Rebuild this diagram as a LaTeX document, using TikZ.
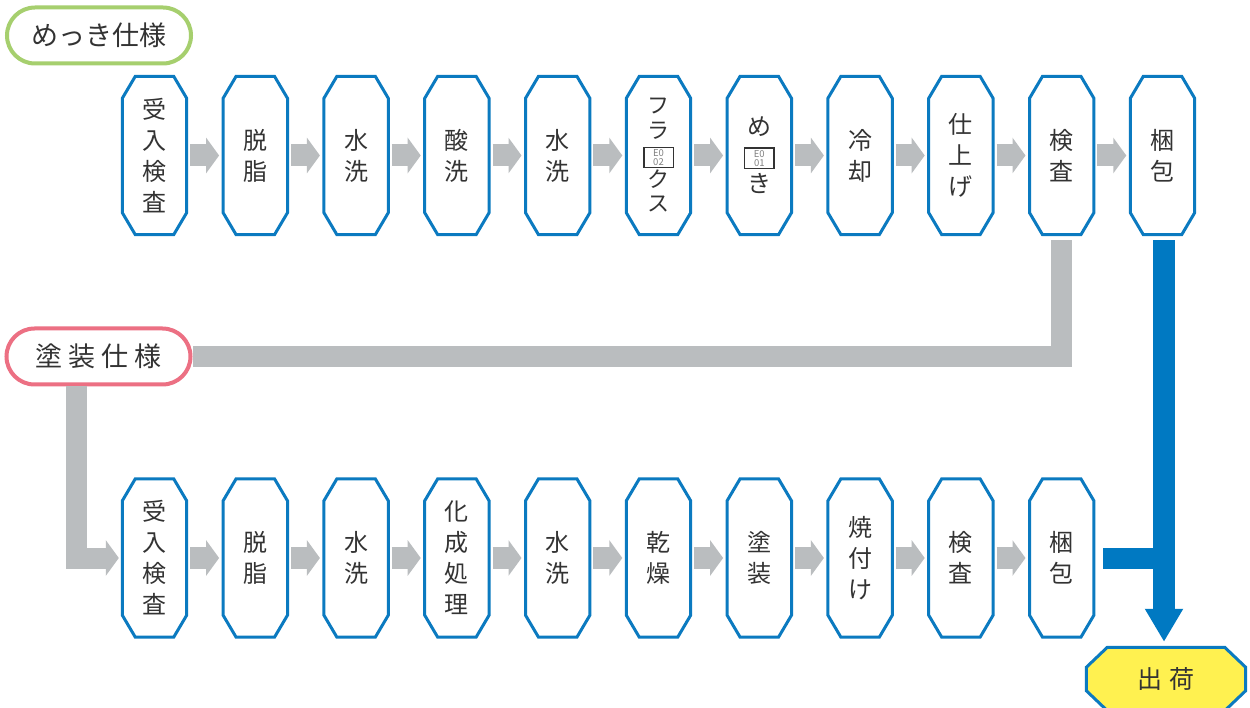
\documentclass[tikz,border=0pt]{standalone}
\usepackage{fontspec}
\setmainfont{Noto Sans CJK JP}
\usetikzlibrary{arrows.meta,calc,backgrounds}
\definecolor{nodeblue}{HTML}{0B7AC0}
\definecolor{barblue}{HTML}{0079C2}
\definecolor{bargray}{HTML}{BABDBF}
\definecolor{pillgreen}{HTML}{A6CF6E}
\definecolor{pillpink}{HTML}{EC7083}
\definecolor{txt}{HTML}{333333}
\definecolor{shukkay}{HTML}{FFF150}
\tikzset{
  stepnode/.style={minimum width=64pt, minimum height=158pt, inner sep=0pt, align=center, text=txt, font=\fontsize{24}{31}\selectfont},
  octline/.style={draw=nodeblue, line width=3pt, line join=miter},
  grayarrow/.style={draw=bargray, line width=22pt, -{Triangle[length=13pt,width=35pt]}, shorten <=3.5pt, shorten >=4pt},
  graybar/.style={draw=bargray, line width=21pt, line join=miter},
  bluebar/.style={draw=barblue, line width=22pt, line join=miter},
  pill/.style={line width=4pt, rounded corners=28pt, minimum width=184pt, minimum height=56pt, inner sep=0pt, text=txt, font=\fontsize{27}{30}\selectfont, fill=white},
  shukkanode/.style={minimum width=159pt, minimum height=63pt, inner sep=0pt, text=txt, font=\fontsize{25}{28}\selectfont},
}
\newcommand\octagon[4][white]{%
  \begin{pgfonlayer}{background}
  \path[octline, fill=#1] ($(#2.north west)+(#3,0)$) -- ($(#2.north east)+(-#3,0)$)
    -- ($(#2.north east)+(0,#4)$) -- ($(#2.south east)+(0,-#4)$)
    -- ($(#2.south east)+(-#3,0)$) -- ($(#2.south west)+(#3,0)$)
    -- ($(#2.south west)+(0,-#4)$) -- ($(#2.north west)+(0,#4)$) -- cycle;
  \end{pgfonlayer}}
\newcommand\gaiji[2]{{\setlength\fboxsep{0pt}\setlength\fboxrule{1.2pt}\fbox{\parbox[c][19pt][c]{28pt}{\centering\fontsize{9.5}{9}\selectfont\color{gray}#1\\#2}}}}
\begin{document}
\begin{tikzpicture}[x=1pt,y=-1pt]
\begin{pgfonlayer}{background}
\fill[white] (0,0) rectangle (1250,708);
\end{pgfonlayer}
\useasboundingbox (0,0) rectangle (1250,708);
% top row
\foreach \i/\xx/\t in {1/154.5/{受\\入\\検\\査},2/255.3/{脱\\脂},3/356.1/{水\\洗},4/456.9/{酸\\洗},5/557.7/{水\\洗},8/860.1/{冷\\却},9/960.9/{仕\\上\\げ},10/1061.7/{検\\査},11/1162.5/{梱\\包}}{
  \node[stepnode] (t\i) at (\xx,155.5) {\t};
  \octagon{t\i}{13}{22}
}
\node[stepnode, font=\fontsize{22}{24.5}\selectfont] (t6) at (658.5,155.5) {フ\\ラ\\\gaiji{E0}{02}\\ク\\ス};
\octagon{t6}{13}{22}
\node[stepnode, font=\fontsize{24}{28.5}\selectfont] (t7) at (759.3,155.5) {め\\\gaiji{E0}{01}\\き};
\octagon{t7}{13}{22}
% bottom row
\foreach \i/\xx/\t in {1/154.5/{受\\入\\検\\査},2/255.3/{脱\\脂},3/356.1/{水\\洗},4/456.9/{化\\成\\処\\理},5/557.7/{水\\洗},6/658.5/{乾\\燥},7/759.3/{塗\\装},8/860.1/{焼\\付\\け},9/960.9/{検\\査},10/1061.7/{梱\\包}}{
  \node[stepnode] (b\i) at (\xx,558) {\t};
  \octagon{b\i}{13}{22}
}
% labels
\node[pill, draw=pillgreen] (mekki) at (99,35.5) {めっき仕様};
\node[pill, draw=pillpink] (tosou) at (98.5,356.5) {塗\hspace{6pt}装\hspace{6pt}仕\hspace{6pt}様};
\node[shukkanode] (shukka) at (1166,679) {出\hspace{7pt}荷};
\octagon[shukkay]{shukka}{21}{20}
% gray arrows
\foreach \i in {1,...,10}{
  \pgfmathtruncatemacro\j{\i+1}
  \draw[grayarrow] (t\i.east) -- (t\j.west);
}
\foreach \i in {1,...,9}{
  \pgfmathtruncatemacro\j{\i+1}
  \draw[grayarrow] (b\i.east) -- (b\j.west);
}
% gray connectors
\draw[graybar, shorten <=5.5pt] (t10.south) |- (tosou.east);
\draw[graybar, -{Triangle[length=13pt,width=35pt]}, shorten >=3.5pt] ([xshift=-22.5pt]tosou.south) |- (b1.west);
% blue connectors
\draw[bluebar, line width=21pt, shorten <=9.5pt] (b10.east) -- (b10.east -| t11.south);
\draw[bluebar, -{Triangle[length=33pt,width=36pt]}, shorten <=5.5pt, shorten >=5.5pt] ([xshift=1.5pt]t11.south) -- ([xshift=1.5pt]t11.south |- shukka.north);
\end{tikzpicture}
\end{document}
